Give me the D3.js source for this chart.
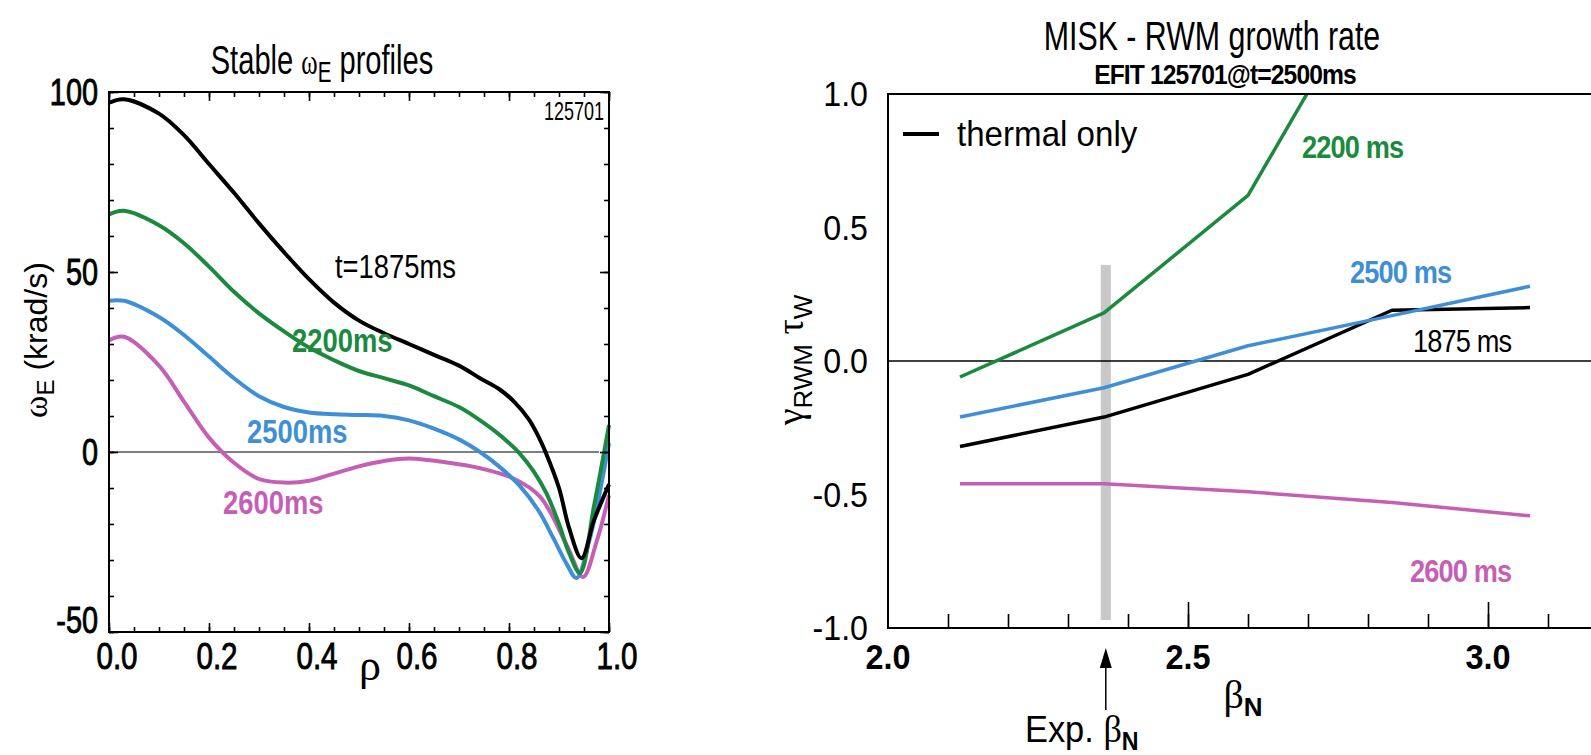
<!DOCTYPE html>
<html>
<head>
<meta charset="utf-8">
<script src="https://cdn.jsdelivr.net/npm/d3@7"></script>
<style>
  body { margin: 0; background: #fff; }
  svg text { font-family: "Liberation Sans", Arial, sans-serif; }
  .sym { font-family: "Liberation Serif", "DejaVu Serif", serif; }
</style>
</head>
<body>
<svg id="fig" width="1591" height="755"></svg>
<script>
// ---- left panel data: omega_E profiles vs rho ----
let rhoBlack   = [0, 0.03, 0.1, 0.15, 0.2, 0.25, 0.3, 0.35, 0.4, 0.45, 0.5, 0.55, 0.6, 0.65, 0.7, 0.742, 0.78, 0.81, 0.84, 0.86, 0.873, 0.9, 0.92, 0.945, 0.97, 1.0];
let omegaBlack = [97, 98, 94, 88, 80, 72, 63.5, 55.5, 48, 41.5, 36.5, 33, 30, 27, 24, 20.5, 17.5, 14, 9, 4, 0, -10, -21, -29.5, -19, -9];

let rhoGreen   = [0, 0.03, 0.1, 0.15, 0.2, 0.25, 0.3, 0.35, 0.4, 0.45, 0.5, 0.55, 0.6, 0.65, 0.7, 0.735, 0.77, 0.8, 0.822, 0.85, 0.875, 0.9, 0.92, 0.942, 0.97, 1.0];
let omegaGreen = [66, 67, 63, 58, 51.5, 44.5, 38.5, 33.5, 29, 25.5, 22.5, 20.5, 18.5, 15.5, 12.5, 9.5, 6, 2.5, -0.5, -5.5, -11.5, -20, -28, -33.6, -15, 7.5];

let rhoBlue    = [0, 0.03, 0.1, 0.15, 0.2, 0.25, 0.3, 0.35, 0.4, 0.45, 0.5, 0.55, 0.6, 0.65, 0.7, 0.742, 0.78, 0.822, 0.86, 0.889, 0.915, 0.935, 0.96, 1.0];
let omegaBlue  = [42, 42, 37.5, 32.5, 26.5, 20.5, 15.5, 12.5, 11, 10.5, 10.3, 10, 8.8, 6.5, 3.5, 0, -4, -9.5, -16.5, -24, -31, -35, -25, 2.5];

let rhoMag     = [0, 0.03, 0.1, 0.15, 0.2, 0.25, 0.3, 0.35, 0.4, 0.45, 0.5, 0.55, 0.6, 0.68, 0.742, 0.808, 0.862, 0.916, 0.948, 0.975, 1.0];
let omegaMag   = [31, 32, 24, 14, 4, -3, -7.5, -8.5, -8, -6, -4, -2.5, -1.8, -3, -4.5, -7.3, -12.4, -26, -34.7, -25, -12];

// ---- right panel data: RWM growth rate vs beta_N ----
let betaN      = [2.12, 2.36, 2.60, 2.84, 3.07];
let gamma1875  = [-0.32, -0.21, -0.05, 0.19, 0.20];
let gamma2200  = [-0.06, 0.18, 0.62, 1.55, 2.4];
let gamma2500  = [-0.21, -0.10, 0.057, 0.17, 0.28];
let gamma2600  = [-0.46, -0.46, -0.49, -0.53, -0.58];
let expBetaN   = 2.363;
let expBand    = [-0.97, 0.36];

let leftXTicks  = [0, 0.2, 0.4, 0.6, 0.8, 1.0];
let leftYTicks  = [100, 50, 0, -50];
let rightXTicks = [2.0, 2.5, 3.0];
let rightYTicks = [1.0, 0.5, 0.0, -0.5, -1.0];

let cBlack = "#000000", cGreen = "#1c8a3e", cBlue = "#3f8fd6", cMag = "#c55fb6";

let svg = d3.select("#fig");

// squeeze text horizontally (the original uses a condensed face)
function narrow(sel, sx) {
    sel.each(function() {
        let t = d3.select(this);
        let x = +t.attr("x") || 0, y = +t.attr("y") || 0;
        t.attr("x", null).attr("y", null)
         .attr("transform", "translate(" + x + "," + y + ") scale(" + sx + ",1)");
    });
}

// =============== LEFT PANEL ===============
let xL = d3.scaleLinear().domain([0, 1]).range([109, 609]);
let yL = d3.scaleLinear().domain([-50, 100]).range([632, 92]);

let left = svg.append("g");

// zero line
left.append("line")
    .attr("x1", xL(0)).attr("x2", xL(0.98))
    .attr("y1", yL(0)).attr("y2", yL(0))
    .attr("stroke", "#555").attr("stroke-width", 1.5);

let lineL = function(xs, ys) {
    return d3.line().curve(d3.curveCatmullRom.alpha(0.5))
        .x(function(d, i) { return xL(xs[i]); })
        .y(function(d) { return yL(d); })(ys);
};
let leftSeries = [
    {x: rhoMag, y: omegaMag, c: cMag},
    {x: rhoBlue, y: omegaBlue, c: cBlue},
    {x: rhoGreen, y: omegaGreen, c: cGreen},
    {x: rhoBlack, y: omegaBlack, c: cBlack}
];
left.selectAll("path.prof")
    .data(leftSeries)
    .enter()
    .append("path")
    .attr("class", "prof")
    .attr("d", function(s) { return lineL(s.x, s.y); })
    .attr("fill", "none")
    .attr("stroke", function(s) { return s.c; })
    .attr("stroke-width", 4)
    .attr("stroke-linejoin", "round");

// frame with inward ticks on all four sides
let tickStyle = function(g) {
    g.select(".domain").remove();
    g.selectAll("line").attr("stroke", "#000").attr("stroke-width", 1.6);
    g.selectAll("text").remove();
};
let minorX = d3.range(0, 1.001, 0.05);
let minorY = d3.range(-50, 100.1, 10);
left.append("g").attr("transform", "translate(0," + yL(-50) + ")")
    .call(d3.axisTop(xL).tickValues(minorX).tickSize(5)).call(tickStyle);
left.append("g").attr("transform", "translate(0," + yL(-50) + ")")
    .call(d3.axisTop(xL).tickValues(leftXTicks).tickSize(9)).call(tickStyle);
left.append("g").attr("transform", "translate(0," + yL(100) + ")")
    .call(d3.axisBottom(xL).tickValues(minorX).tickSize(5)).call(tickStyle);
left.append("g").attr("transform", "translate(0," + yL(100) + ")")
    .call(d3.axisBottom(xL).tickValues(leftXTicks).tickSize(9)).call(tickStyle);
left.append("g").attr("transform", "translate(" + xL(0) + ",0)")
    .call(d3.axisRight(yL).tickValues(minorY).tickSize(5)).call(tickStyle);
left.append("g").attr("transform", "translate(" + xL(0) + ",0)")
    .call(d3.axisRight(yL).tickValues(leftYTicks).tickSize(9)).call(tickStyle);
left.append("g").attr("transform", "translate(" + xL(1) + ",0)")
    .call(d3.axisLeft(yL).tickValues(minorY).tickSize(5)).call(tickStyle);
left.append("g").attr("transform", "translate(" + xL(1) + ",0)")
    .call(d3.axisLeft(yL).tickValues(leftYTicks).tickSize(9)).call(tickStyle);
left.append("rect")
    .attr("x", xL(0)).attr("y", yL(100))
    .attr("width", xL(1) - xL(0)).attr("height", yL(-50) - yL(100))
    .attr("fill", "none").attr("stroke", "#000").attr("stroke-width", 2);

// tick labels
left.selectAll("text.xl")
    .data(leftXTicks).enter().append("text")
    .attr("class", "xl")
    .attr("x", function(d) { return xL(d) + 8; })
    .attr("y", yL(-50) + 37)
    .attr("text-anchor", "middle")
    .style("font-size", "37px")
    .attr("stroke", "#000").attr("stroke-width", 0.9)
    .text(function(d) { return d3.format(".1f")(d); })
    .call(narrow, 0.8);
left.selectAll("text.yl")
    .data(leftYTicks).enter().append("text")
    .attr("class", "yl")
    .attr("x", xL(0) - 11)
    .attr("y", function(d) { return (d == -50 ? yL(d) - 12 : yL(d)) + 13; })
    .attr("text-anchor", "end")
    .style("font-size", "37px")
    .attr("stroke", "#000").attr("stroke-width", 0.9)
    .text(function(d) { return d; })
    .call(narrow, 0.78);

// titles and axis labels
let t1 = left.append("text").attr("x", 322).attr("y", 74)
    .attr("text-anchor", "middle").style("font-size", "41px");
t1.append("tspan").text("Stable ");
t1.append("tspan").attr("class", "sym").style("font-size", "35px").text("ω");
t1.append("tspan").attr("dy", 8).style("font-size", "29px").text("E");
t1.append("tspan").attr("dy", -8).text(" profiles");
t1.call(narrow, 0.71);

let yLab = left.append("text")
    .attr("transform", "translate(47,340) rotate(-90)")
    .attr("text-anchor", "middle").style("font-size", "32px");
yLab.append("tspan").attr("class", "sym").style("font-size", "34px").text("ω");
yLab.append("tspan").attr("dy", 7).style("font-size", "24px").text("E");
yLab.append("tspan").attr("dy", -7).text(" (krad/s)");

left.append("text").attr("class", "sym")
    .attr("x", 370).attr("y", 680)
    .attr("text-anchor", "middle").style("font-size", "44px")
    .text("ρ");

left.append("text").attr("x", 604).attr("y", 120)
    .attr("text-anchor", "end").style("font-size", "25px")
    .text("125701")
    .call(narrow, 0.72);

// curve labels
let leftLabels = [
    {t: "t=1875ms", x: 335, y: 278, c: cBlack},
    {t: "2200ms", x: 292, y: 352, c: cGreen},
    {t: "2500ms", x: 247, y: 443, c: cBlue},
    {t: "2600ms", x: 223, y: 514, c: cMag}
];
left.selectAll("text.cl")
    .data(leftLabels).enter().append("text")
    .attr("class", "cl")
    .attr("x", function(d) { return d.x; })
    .attr("y", function(d) { return d.y; })
    .attr("fill", function(d) { return d.c; })
    .style("font-size", "33px")
    .style("font-weight", function(d) { return d.c == cBlack ? "normal" : "bold"; })
    .text(function(d) { return d.t; })
    .call(narrow, 0.83);

// =============== RIGHT PANEL ===============
let xR = d3.scaleLinear().domain([2.0, 3.2]).range([888, 1608]);
let yR = d3.scaleLinear().domain([-1, 1]).range([628, 94]);

let right = svg.append("g");
right.append("defs").append("clipPath").attr("id", "clipR")
    .append("rect").attr("x", xR(2.0)).attr("y", yR(1))
    .attr("width", xR(3.2) - xR(2.0)).attr("height", yR(-1) - yR(1));

// experimental beta_N band
right.append("rect")
    .attr("x", xR(expBetaN) - 5).attr("width", 10)
    .attr("y", yR(expBand[1])).attr("height", yR(expBand[0]) - yR(expBand[1]))
    .attr("fill", "#c8c8c8");

// zero line
right.append("line")
    .attr("x1", xR(2.0)).attr("x2", xR(3.2))
    .attr("y1", yR(0)).attr("y2", yR(0))
    .attr("stroke", "#000").attr("stroke-width", 1.3);

let rightSeries = [
    {y: gamma2600, c: cMag},
    {y: gamma1875, c: cBlack},
    {y: gamma2500, c: cBlue},
    {y: gamma2200, c: cGreen}
];
let lineR = d3.line()
    .x(function(d, i) { return xR(betaN[i]); })
    .y(function(d) { return yR(d); });
right.append("g").attr("clip-path", "url(#clipR)")
    .selectAll("path")
    .data(rightSeries).enter().append("path")
    .attr("d", function(s) { return lineR(s.y); })
    .attr("fill", "none")
    .attr("stroke", function(s) { return s.c; })
    .attr("stroke-width", 3.5)
    .attr("stroke-linejoin", "round");

// frame: left, top, bottom
right.append("path")
    .attr("d", "M" + xR(3.2) + "," + yR(1) + "H" + xR(2.0) + "V" + yR(-1) + "H" + xR(3.2))
    .attr("fill", "none").attr("stroke", "#000").attr("stroke-width", 2);

// bottom ticks, pointing inward
right.append("g").attr("transform", "translate(0," + yR(-1) + ")")
    .call(d3.axisTop(xR).tickValues(d3.range(2.1, 3.21, 0.1)).tickSize(14)).call(tickStyle);
right.append("g").attr("transform", "translate(0," + yR(-1) + ")")
    .call(d3.axisTop(xR).tickValues(rightXTicks.slice(1)).tickSize(26)).call(tickStyle);

right.selectAll("text.xr")
    .data(rightXTicks).enter().append("text")
    .attr("class", "xr")
    .attr("x", function(d) { return xR(d); })
    .attr("y", yR(-1) + 41)
    .attr("text-anchor", "middle")
    .style("font-size", "36px").style("font-weight", "bold")
    .text(function(d) { return d3.format(".1f")(d); })
    .call(narrow, 0.9);
right.selectAll("text.yr")
    .data(rightYTicks).enter().append("text")
    .attr("class", "yr")
    .attr("x", xR(2.0) - 20)
    .attr("y", function(d) { return yR(d) + 12; })
    .attr("text-anchor", "end")
    .style("font-size", "35px")
    .text(function(d) { return d3.format(".1f")(d).replace("−", "-"); })
    .call(narrow, 0.92);

// titles
right.append("text").attr("x", 1212).attr("y", 50)
    .attr("text-anchor", "middle").style("font-size", "41px")
    .text("MISK - RWM growth rate")
    .call(narrow, 0.74);
right.append("text").attr("x", 1225).attr("y", 84)
    .attr("text-anchor", "middle").style("font-size", "28px")
    .style("font-weight", "bold").style("letter-spacing", "-1px")
    .text("EFIT 125701@t=2500ms")
    .call(narrow, 0.88);

// y label
let yLabR = right.append("text")
    .attr("transform", "translate(803,360) rotate(-90)")
    .attr("text-anchor", "middle").style("font-size", "38px");
yLabR.append("tspan").attr("class", "sym").text("γ");
yLabR.append("tspan").attr("dy", 9).style("font-size", "26px").text("RWM");
yLabR.append("tspan").attr("dy", -9).attr("class", "sym").text(" τ");
yLabR.append("tspan").attr("dy", 9).style("font-size", "26px").text("W");

// x label
let xLabR = right.append("text").attr("x", 1243).attr("y", 708)
    .attr("text-anchor", "middle").style("font-size", "40px");
xLabR.append("tspan").attr("class", "sym").text("β");
xLabR.append("tspan").attr("dy", 8).style("font-size", "26px").style("font-weight", "bold").text("N");

// exp arrow
right.append("line")
    .attr("x1", xR(expBetaN)).attr("x2", xR(expBetaN))
    .attr("y1", yR(-1) + 38).attr("y2", yR(-1) + 82)
    .attr("stroke", "#000").attr("stroke-width", 1.5);
right.append("path")
    .attr("d", "M" + xR(expBetaN) + "," + (yR(-1) + 20) + "l-6,20h12z")
    .attr("fill", "#000");
let expLab = right.append("text").attr("x", xR(expBetaN) - 24).attr("y", 742)
    .attr("text-anchor", "middle").style("font-size", "37px");
expLab.append("tspan").text("Exp. ");
expLab.append("tspan").attr("class", "sym").style("font-size", "39px").text("β");
expLab.append("tspan").attr("dy", 8).style("font-size", "25px").style("font-weight", "bold").text("N");
expLab.call(narrow, 0.93);

// legend
right.append("line")
    .attr("x1", 903).attr("x2", 939).attr("y1", 134).attr("y2", 134)
    .attr("stroke", "#000").attr("stroke-width", 4);
right.append("text").attr("x", 957).attr("y", 146)
    .style("font-size", "36px").text("thermal only")
    .call(narrow, 0.92);

// series labels
let rightLabels = [
    {t: "2200 ms", x: 1302, y: 158, c: cGreen, w: "bold"},
    {t: "2500 ms", x: 1350, y: 283, c: cBlue, w: "bold"},
    {t: "1875 ms", x: 1413, y: 352, c: cBlack, w: "normal"},
    {t: "2600 ms", x: 1410, y: 582, c: cMag, w: "bold"}
];
right.selectAll("text.sl")
    .data(rightLabels).enter().append("text")
    .attr("class", "sl")
    .attr("x", function(d) { return d.x; })
    .attr("y", function(d) { return d.y; })
    .attr("fill", function(d) { return d.c; })
    .style("font-size", "32px")
    .style("font-weight", function(d) { return d.w; })
    .style("letter-spacing", "-1px")
    .text(function(d) { return d.t; })
    .call(narrow, 0.85);
</script>
</body>
</html>
